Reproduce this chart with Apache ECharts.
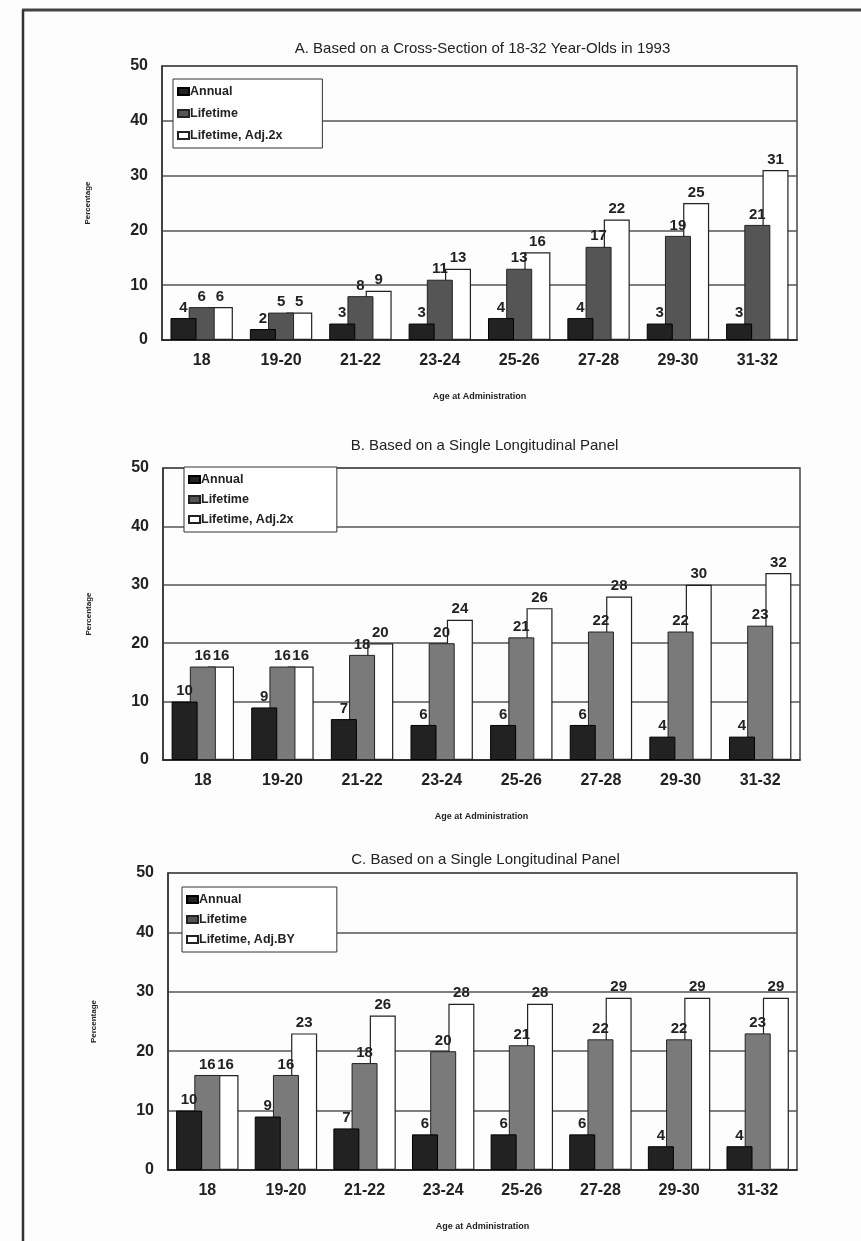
<!DOCTYPE html>
<html>
<head>
<meta charset="utf-8">
<script src="https://cdn.jsdelivr.net/npm/echarts@6/dist/echarts.min.js"></script>
<style>
html,body{margin:0;padding:0;background:#fdfdfd;}
#c{width:861px;height:1241px;}
</style>
</head>
<body>
<div id="c"></div>
<script>
// ---- data ----
const categories = ['18','19-20','21-22','23-24','25-26','27-28','29-30','31-32'];
const yTicks = [0,10,20,30,40,50];

const titleA = 'A. Based on a Cross-Section of 18-32 Year-Olds in 1993';
const annualA   = [4,2,3,3,4,4,3,3];
const lifetimeA = [6,5,8,11,13,17,19,21];
const adjA      = [6,5,9,13,16,22,25,31];
const adjNameA  = 'Lifetime, Adj.2x';

const titleB = 'B. Based on a Single Longitudinal Panel';
const annualB   = [10,9,7,6,6,6,4,4];
const lifetimeB = [16,16,18,20,21,22,22,23];
const adjB      = [16,16,20,24,26,28,30,32];
const adjNameB  = 'Lifetime, Adj.2x ';

const titleC = 'C. Based on a Single Longitudinal Panel';
const annualC   = [10,9,7,6,6,6,4,4];
const lifetimeC = [16,16,18,20,21,22,22,23];
const adjC      = [16,23,26,28,28,29,29,29];
const adjNameC  = 'Lifetime, Adj.BY';

const xName = 'Age at Administration';
const yName = 'Percentage';

// ---- layout ----
const panels = [
  {title:titleA, annual:annualA, life:lifetimeA, adj:adjA, adjName:adjNameA,
   left:162, right:64, top:66, height:274, titleTop:36, legLeft:173, legTop:79, lifeColor:'#555', gap:9, padR:40},
  {title:titleB, annual:annualB, life:lifetimeB, adj:adjB, adjName:adjNameB,
   left:163, right:61, top:468, height:292, titleTop:433, legLeft:184, legTop:467, lifeColor:'#7a7a7a', gap:7, padR:40},
  {title:titleC, annual:annualC, life:lifetimeC, adj:adjC, adjName:adjNameC,
   left:168, right:64, top:873, height:297, titleTop:847, legLeft:182, legTop:887, lifeColor:'#7a7a7a', gap:7, padR:42}
];

const FONT = "'Liberation Sans', Arial, sans-serif";
const NARROW = "'Liberation Sans Narrow', 'Arial Narrow', 'Liberation Sans', sans-serif";

const option = {
  animation:false,
  backgroundColor:'#fdfdfd',
  title:[], legend:[], grid:[], xAxis:[], yAxis:[], series:[],
  graphic:[
    {type:'line', shape:{x1:22,y1:10,x2:861,y2:10}, style:{stroke:'#444',lineWidth:3}},
    {type:'line', shape:{x1:23,y1:10,x2:23,y2:1241}, style:{stroke:'#333',lineWidth:2.5}}
  ]
};

const labelStyle = {show:true, position:'top', distance:3, color:'#222', fontSize:15, fontWeight:'bold', fontFamily:NARROW};

panels.forEach((p,i)=>{
  option.title.push({text:p.title, left:p.left + (861-p.left-p.right)/2 - 2, textAlign:'center', top:p.titleTop,
    textStyle:{fontSize:15, fontWeight:'normal', color:'#222', fontFamily:FONT}});
  option.grid.push({left:p.left, right:p.right, top:p.top, height:p.height, show:true,
    borderColor:'#444', borderWidth:1.5, backgroundColor:'transparent'});
  option.xAxis.push({type:'category', gridIndex:i, data:categories,
    axisLine:{lineStyle:{color:'#222', width:1.5}}, axisTick:{show:false},
    axisLabel:{fontSize:16, fontWeight:'bold', color:'#222', fontFamily:NARROW, margin:13},
    name:xName, nameLocation:'middle', nameGap:52,
    nameTextStyle:{fontSize:9, fontWeight:'bold', color:'#222', fontFamily:FONT}});
  option.yAxis.push({type:'value', gridIndex:i, min:yTicks[0], max:yTicks[yTicks.length-1], interval:10,
    axisLine:{show:true, lineStyle:{color:'#333', width:1.5}}, axisTick:{show:false},
    splitLine:{lineStyle:{color:'#555', width:1.5}},
    axisLabel:{fontSize:16, fontWeight:'bold', color:'#222', fontFamily:FONT, margin:14},
    name:yName, nameLocation:'middle', nameGap:70, nameRotate:90,
    nameTextStyle:{fontSize:8, fontWeight:'bold', color:'#222', fontFamily:FONT}});
  option.legend.push({orient:'vertical', left:p.legLeft, top:p.legTop,
    data:['Annual','Lifetime',p.adjName], icon:'rect', itemWidth:11, itemHeight:7, itemGap:p.gap,
    backgroundColor:'#fff', borderColor:'#333', borderWidth:1, padding:[6,p.padR,6,4],
    textStyle:{fontSize:12.5, fontWeight:'bold', color:'#222', fontFamily:NARROW, padding:[0,0,0,-4]},
    selectedMode:false});
  option.series.push({name:'Annual', type:'bar', xAxisIndex:i, yAxisIndex:i, data:p.annual,
    barWidth:26, barGap:'-30%', z:4,
    itemStyle:{color:'#222', borderColor:'#000', borderWidth:1}, label:labelStyle});
  option.series.push({name:'Lifetime', type:'bar', xAxisIndex:i, yAxisIndex:i, data:p.life,
    barWidth:26, barGap:'-30%', z:3,
    itemStyle:{color:p.lifeColor, borderColor:'#222', borderWidth:1}, label:labelStyle});
  option.series.push({name:p.adjName, type:'bar', xAxisIndex:i, yAxisIndex:i, data:p.adj,
    barWidth:26, barGap:'-30%', z:2,
    itemStyle:{color:'#fff', borderColor:'#222', borderWidth:1.2}, label:labelStyle});
});

const chart = echarts.init(document.getElementById('c'), null, {renderer:'canvas'});
chart.setOption(option);
</script>
</body>
</html>
